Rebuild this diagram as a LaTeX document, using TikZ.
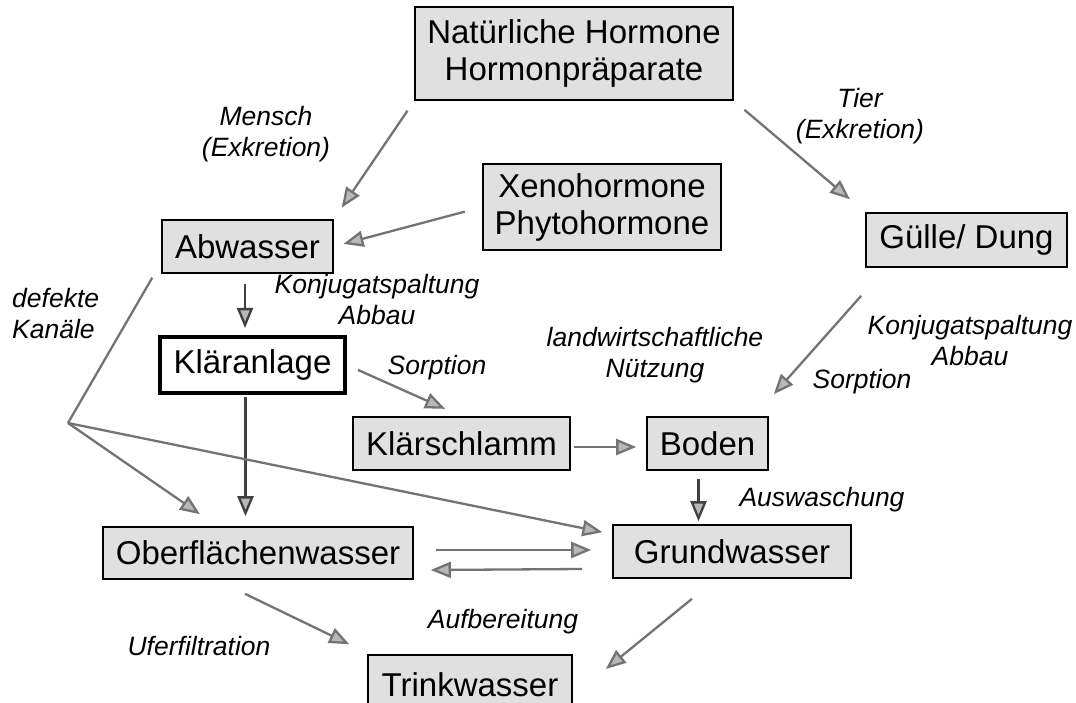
\documentclass[tikz,border=0pt]{standalone}
\usepackage{fontspec}
\setmainfont{Liberation Sans}
\usetikzlibrary{arrows.meta,calc}
\begin{document}
\begin{tikzpicture}[x=1pt,y=-1pt,
  box/.style={draw=black, line width=1.6pt, fill=black!12, inner sep=0pt, align=center,
    font=\fontsize{33}{37}\selectfont},
  thickbox/.style={box, line width=4pt, fill=white},
  lbl/.style={font=\fontsize{26.5}{31}\selectfont\itshape, align=center, inner sep=0pt},
  arr/.style={draw=black!55, line width=2.3pt, -{Triangle[length=20pt,width=16pt,fill=black!28]}},
  darr/.style={arr, draw=black!75},
  plainline/.style={draw=black!55, line width=2.3pt},
]
\useasboundingbox (0,0) rectangle (1076,703);
\clip (0,0) rectangle (1076,703);

% boxes
\node[box, minimum width=318pt, minimum height=93pt] (nat) at (574,53.5) {Natürliche Hormone\\Hormonpräparate};
\node[box, minimum width=238pt, minimum height=86pt] (xeno) at (602,207) {Xenohormone\\Phytohormone};
\node[box, minimum width=171pt, minimum height=53pt] (abw) at (247.5,246.5) {Abwasser};
\node[box, minimum width=201pt, minimum height=54pt] (guelle) at (966.5,240) {Gülle/ Dung};
\node[thickbox, minimum width=185pt, minimum height=56pt] (klaer) at (252.5,365) {Kläranlage};
\node[box, minimum width=217pt, minimum height=53pt] (schlamm) at (461.5,443.5) {Klärschlamm};
\node[box, minimum width=121pt, minimum height=53pt] (boden) at (707.5,443.5) {Boden};
\node[box, minimum width=310pt, minimum height=52pt] (ober) at (258,553) {Oberflächenwasser};
\node[box, minimum width=238pt, minimum height=53pt] (grund) at (732,551.5) {Grundwasser};
\node[box, minimum width=204pt, minimum height=60pt] (trink) at (470,685) {Trinkwasser};

% labels
\node[lbl] (lmensch) at (266,134) {Mensch\\(Exkretion)};
\node[lbl] (ltier) at (860,116) {Tier\\(Exkretion)};
\node[lbl] (lkonj1) at (377,300) {Konjugatspaltung\\Abbau};
\node[lbl] (lsorp1) at (437,368) {Sorption};
\node[lbl, align=left, anchor=west] (ldef) at (12,314) {defekte\\Kanäle};
\node[lbl] (llandw) at (655,355) {landwirtschaftliche\\Nützung};
\node[lbl] (lkonj2) at (970,341) {Konjugatspaltung\\Abbau};
\node[lbl] (lsorp2) at (862,382) {Sorption};
\node[lbl] (lausw) at (822,500) {Auswaschung};
\node[lbl] (lauf) at (503,622) {Aufbereitung};
\node[lbl] (lufer) at (199,646) {Uferfiltration};

% connectors
\draw[arr, shorten <=12pt, shorten >=14pt] (nat.south west) -- (abw.north east);
\draw[arr, shorten <=14pt, shorten >=20pt] (nat.south east) -- (guelle.north west);
\draw[arr, shorten <=18pt, shorten >=10pt] (xeno.west) -- (abw.east);
\draw[darr, shorten <=10pt, shorten >=7pt] ([xshift=-2.5pt]abw.south) -- ([xshift=-2.5pt]abw.south |- klaer.north);
\draw[arr, shorten <=12pt, shorten >=18pt] (klaer.east) -- (schlamm.north);
\draw[arr, shorten <=3pt, shorten >=10pt] ([yshift=-3.5pt]schlamm.east) -- ([yshift=-3.5pt]boden.west);
\draw[arr] ($(guelle.south west)+(-4,28)$) -- ($(boden.north east)+(5,-22)$);
\draw[darr, shorten <=8pt, shorten >=3pt] ([xshift=-9pt]boden.south) -- ([xshift=-9pt]boden.south |- grund.north);
\draw[darr, shorten <=2pt, shorten >=10pt] ([xshift=-7pt]klaer.south) -- ([xshift=-7pt]klaer.south |- ober.north);

\coordinate (kink) at (68,423);
\draw[plainline] ($(abw.south west)+(-9,4)$) -- (kink);
\draw[arr] (kink) -- ($(ober.north)+(-58,-12)$);
\draw[arr, shorten >=10pt] (kink) -- ([yshift=-10pt]grund.north west);

\draw[arr] ($(ober.east)+(22,-3)$) -- ($(grund.west)+(-21,-1.5)$);
\draw[arr] ($(grund.west)+(-30,17.5)$) -- ($(ober.east)+(17,17)$);

\draw[arr] ($(ober.south)+(-13,14)$) -- ($(trink.north west)+(-18,-10)$);
\draw[arr] ($(grund.south)+(-40,20)$) -- ($(trink.east)+(33,-16)$);
\end{tikzpicture}
\end{document}
